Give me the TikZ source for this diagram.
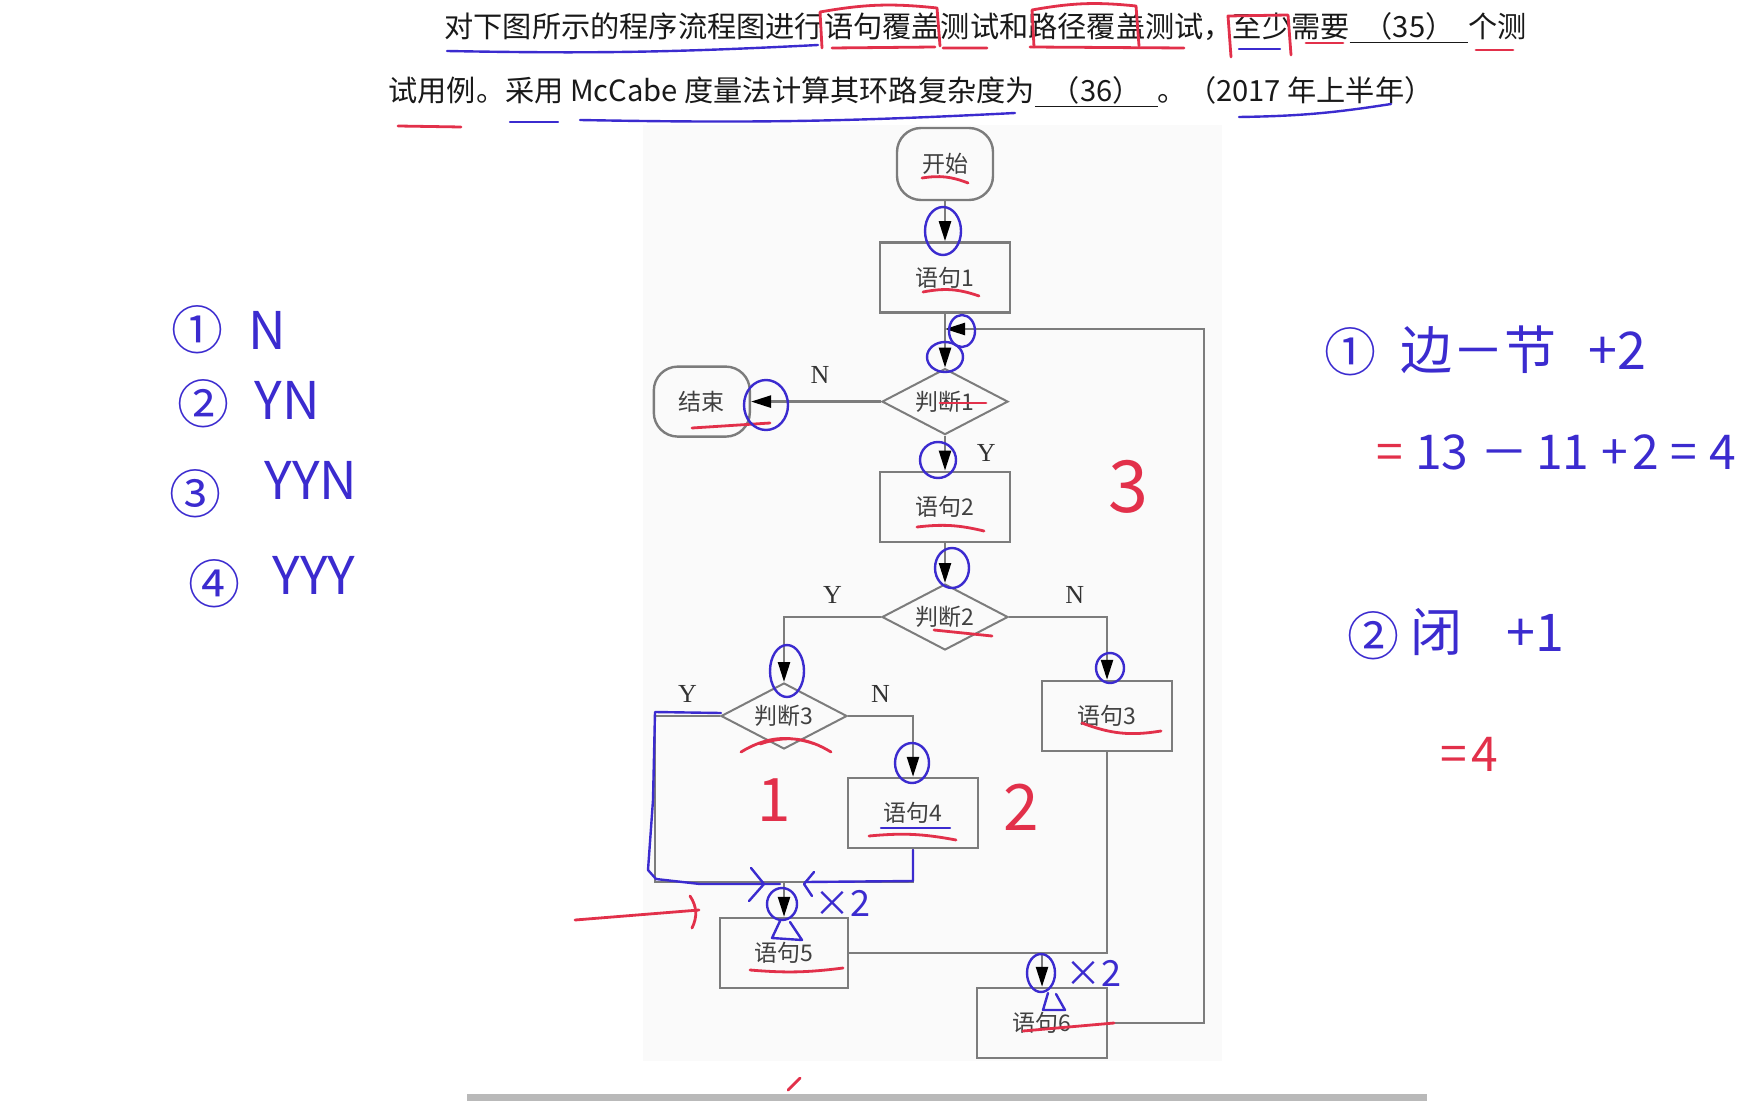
\documentclass[tikz,border=0pt]{standalone}
\usepackage{fontspec}
\setmainfont{Liberation Serif}
\newfontfamily\cjk{Noto Sans CJK SC}
\usepackage{xcolor}
\usetikzlibrary{shapes.geometric,arrows.meta,positioning,calc}
\definecolor{linegray}{HTML}{7C7C7C}
\definecolor{penblue}{HTML}{3B2BCF}
\definecolor{penred}{HTML}{E2304A}
\tikzset{
  box/.style={rectangle, draw=linegray, line width=1.2pt, minimum height=35pt,
              minimum width=65pt, align=center, font=\cjk\fontsize{11.5}{13}\selectfont,
              text=black!75},
  term/.style={box, rounded corners=12pt, minimum width=48pt, minimum height=36pt},
  dec/.style={diamond, draw=linegray, line width=1pt, aspect=2, minimum width=63pt,
              minimum height=33pt, inner sep=0pt, font=\cjk\fontsize{11.5}{13}\selectfont,
              text=black!75},
  arr/.style={-{Triangle[length=10pt,width=6pt,color=black]}, linegray, line width=1.2pt},
  ln/.style={linegray, line width=1.2pt},
  yn/.style={font=\fontsize{13}{13}\selectfont, text=black!80},
  qtext/.style={anchor=west, font=\cjk\fontsize{14.6}{16}\selectfont, text=black!90,
                inner sep=0pt},
  hand/.style={font=\cjk\fontsize{26}{28}\selectfont, text=penblue, inner sep=0pt},
  redhand/.style={hand, text=penred},
  pen/.style={penblue, line width=1.2pt, line cap=round, line join=round},
  rpen/.style={penred, line width=1.4pt, line cap=round, line join=round}
}

\begin{document}
\begin{tikzpicture}[x=0.5pt, y=-0.5pt]
  \useasboundingbox (0,0) rectangle (1764,1101);
  \fill[gray!4] (643,125) rectangle (1222,1061);
  \fill[gray!55] (467,1094) rectangle (1427,1101);

  % question
  \node[qtext] (q1) at (444,28) {对下图所示的程序流程图进行语句覆盖测试和路径覆盖测试，至少需要\underline{\hspace{7pt}（35）\hspace{7pt}}个测};
  \node[qtext] (q2) at (388,92) {试用例。采用 McCabe 度量法计算其环路复杂度为\underline{\hspace{8pt}（36）\hspace{8pt}}。（2017 年上半年）};

  % flow chart
  \node[term] (start) at (945,164) {开始};
  \node[box, below=20pt of start] (s1) {语句1};
  \node[dec, below=27pt of s1] (d1) {判断1};
  \node[term, minimum height=35pt, left=65pt of d1] (end) {结束};
  \node[box, below=17.5pt of d1] (s2) {语句2};
  \node[dec, below=20pt of s2] (d2) {判断2};
  \node[dec] (d3) at (784,716) {判断3};
  \node[box] (s3) at (1107,716) {语句3};
  \node[box] (s4) at (913,813) {语句4};
  \node[box, minimum width=64pt] (s5) at (784,953) {语句5};
  \node[box] (s6) at (1042,1023) {语句6};
  \coordinate (j1) at (784,882);
  \coordinate (fb) at (945,329);
  \coordinate (rt) at (1204,329);

  \draw[arr] (start) -- (s1);
  \draw[arr] (s1) -- (d1);
  \draw[arr] (d1) -- node[yn, above=5pt, pos=0.47] {N} (end);
  \draw[arr] (d1) -- node[yn, right=12pt] {Y} (s2);
  \draw[arr] (s2) -- (d2);
  \draw[arr] (d2.west) -- node[yn, above=3pt] {Y} (d3.north |- d2.west) -- (d3.north);
  \draw[arr] (d2.east) -- node[yn, above=3pt, pos=0.67] {N} (s3.north |- d2.east) -- (s3.north);
  \draw[ln] (d3.west) -- node[yn, above=3pt] {Y} (655,716) -- (655,882) -- (j1);
  \draw[arr] (d3.east) -- node[yn, above=3pt] {N} (s4.north |- d3.east) -- (s4.north);
  \draw[ln] (s4.south) -- (s4.south |- j1) -- (j1);
  \draw[arr] (j1) -- (s5);
  \draw[ln] (s3.south) -- (s3.south |- s5.east) -- (s5.east);
  \draw[arr] (s6.north |- s5.east) -- (s6);
  \draw[arr] (s6.east) -| (rt) -- (fb);

  % pen marks on the question
  \draw[pen] (447,51) to[bend right=2] (818,45);
  \draw[rpen] (822,48) -- (820,12) to[bend left=8] (937,8) -- (940,46);
  \draw[rpen] (832,48) -- (935,47) (943,48) -- (987,48);
  \draw[rpen] (1034,47) -- (1032,10) to[bend left=8] (1136,6) -- (1139,46);
  \draw[rpen] (1030,47) -- (1184,48);
  \draw[rpen] (1231,57) -- (1228,16) -- (1288,15) -- (1291,55);
  \draw[pen] (1239,49) -- (1280,49);
  \draw[rpen] (1306,43) -- (1343,43);
  \draw[rpen] (1476,50) -- (1513,50);
  \draw[rpen] (398,126) -- (461,127);
  \draw[pen] (510,122) -- (558,122);
  \draw[pen] (580,120) to[bend right=2] (1015,113);
  \draw[pen] (1239,117) to[bend right=4] (1391,104);

  % pen marks on the chart
  \draw[rpen] (922,178) to[bend left=15] (968,183);
  \draw[rpen] (923,292) to[bend left=15] (979,296);
  \draw[rpen] (940,403) -- (986,403);
  \draw[rpen] (692,428) -- (770,423);
  \draw[rpen] (917,527) to[bend left=10] (984,531);
  \draw[rpen] (934,630) -- (992,636);
  \draw[rpen] (1082,723) to[bend right=15] (1161,731);
  \draw[rpen] (741,752) to[bend left=25] (815,744) (760,744) to[bend left=25] (831,752);
  \draw[pen] (881,828) -- (950,828);
  \draw[rpen] (869,836) to[bend left=8] (956,840);
  \draw[rpen] (750,970) to[bend right=6] (843,968);
  \draw[rpen] (1023,1031) -- (1114,1023);
  \draw[rpen] (575,920) -- (699,910) (690,896) to[bend left=30] (692,928);
  \draw[rpen] (788,1090) -- (800,1078);
  \draw[pen] (943,231) ellipse[x radius=18, y radius=24];
  \draw[pen] (962,331) ellipse[x radius=13, y radius=16];
  \draw[pen] (945,357) ellipse[x radius=18, y radius=15];
  \draw[pen] (766,405) ellipse[x radius=22, y radius=25];
  \draw[pen] (938,460) ellipse[x radius=18, y radius=18];
  \draw[pen] (952,568) ellipse[x radius=17, y radius=20];
  \draw[pen] (787,671) ellipse[x radius=17, y radius=26];
  \draw[pen] (1110,668) ellipse[x radius=14, y radius=15];
  \draw[pen] (912,763) ellipse[x radius=17, y radius=20];
  \draw[pen] (782,904) ellipse[x radius=15, y radius=16];
  \draw[pen] (1041,973) ellipse[x radius=14, y radius=19];
  \draw[pen] (780,921) -- (772,938) -- (802,940) -- (790,922);
  \draw[pen] (1048,993) -- (1043,1010) -- (1065,1010) -- (1056,994);
  \draw[pen] (721,713) -- (655,712) -- (653,800) -- (648,870) -- (656,879) -- (700,884) -- (780,884);
  \draw[pen] (913,850) -- (913,881) -- (805,882);
  \draw[pen] (751,868) -- (764,884) -- (749,901);
  \draw[pen] (814,872) -- (804,884) -- (812,896);

  % notes
  \node[hand] (n1) at (197,330) {①};
  \node[hand, anchor=west] at (248,330) {N};
  \node[hand] (n2) at (203,404) {②};
  \node[hand, anchor=west] at (254,400) {YN};
  \node[hand] (n3) at (195,494) {③};
  \node[hand, anchor=west] at (264,480) {YYN};
  \node[hand] (n4) at (214,584) {④};
  \node[hand, anchor=west] at (272,575) {YYY};

  \node[hand] (m1) at (1350,352) {①};
  \node[hand, anchor=west] at (1400,350) {边－节\hspace{16pt}+2};
  \node[hand, anchor=west, font=\cjk\fontsize{24}{26}\selectfont] at (1376,452)
    {\textcolor{penred}{=}\hspace{6pt}13\hspace{6pt}－\hspace{4pt}11\hspace{6pt}+\hspace{2pt}2\hspace{6pt}=\hspace{6pt}4};
  \node[hand] (m2) at (1373,636) {②};
  \node[hand, anchor=west] at (1410,632) {闭\hspace{22pt}+1};
  \node[redhand, anchor=west, font=\cjk\fontsize{24}{26}\selectfont] at (1440,754) {=\hspace{2pt}4};

  \node[redhand, font=\cjk\fontsize{36}{38}\selectfont] at (1128,487) {3};
  \node[redhand, font=\cjk\fontsize{32}{34}\selectfont] at (1021,807) {2};
  \node[redhand, font=\cjk\fontsize{30}{32}\selectfont] at (774,800) {1};
  \node[hand, font=\cjk\fontsize{18}{20}\selectfont] at (842,903) {×2};
  \node[hand, font=\cjk\fontsize{18}{20}\selectfont] at (1093,973) {×2};
\end{tikzpicture}
\end{document}
